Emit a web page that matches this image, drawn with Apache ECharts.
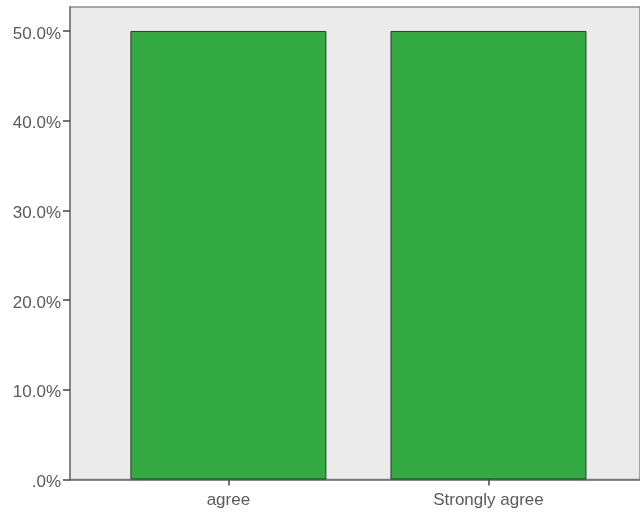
<!DOCTYPE html>
<html>
<head>
<meta charset="utf-8">
<script src="https://cdn.jsdelivr.net/npm/echarts@6/dist/echarts.min.js"></script>
<style>html,body{margin:0;padding:0;background:#fff}#c{width:640px;height:515px}</style>
</head>
<body>
<div id="c"></div>
<script>
const categories = ["agree", "Strongly agree"];
const percentValues = [50.0, 50.0];
const yTickValues = [0, 10, 20, 30, 40, 50];

const chart = echarts.init(document.getElementById('c'));
const fmtPct = v => '{p|' + (v === 0 ? '.0%' : v.toFixed(1) + '%') + '}';
chart.setOption({
  animation: false,
  grid: {
    left: 70, right: -2, top: 7, bottom: 35.5,
    show: true, backgroundColor: '#ebebeb', borderColor: '#8c8c8c', borderWidth: 1.5
  },
  xAxis: {
    type: 'value', min: -0.609, max: 1.5826,
    splitLine: { show: false },
    axisLine: { show: true, onZero: false, lineStyle: { color: '#6f6f6f', width: 1.5 } },
    axisTick: { show: true, customValues: categories.map((c, i) => i), length: 6, lineStyle: { color: '#444', width: 1.5 } },
    axisLabel: {
      customValues: categories.map((c, i) => i),
      formatter: v => categories[Math.round(v)] || '',
      color: '#5a5a5a', fontFamily: 'Liberation Sans', fontSize: 17, margin: 12
    }
  },
  yAxis: {
    type: 'value', min: 0, max: 52.67,
    splitLine: { show: false },
    axisLine: { show: true, onZero: false, lineStyle: { color: '#7a7a7a', width: 1.5 } },
    axisTick: { show: true, customValues: yTickValues, length: 7, lineStyle: { color: '#444', width: 1.5 } },
    axisLabel: {
      customValues: yTickValues, formatter: fmtPct,
      color: '#5a5a5a', fontFamily: 'Liberation Sans', fontSize: 17, margin: 9,
      rich: { p: { color: '#5a5a5a', fontFamily: 'Liberation Sans', fontSize: 17, padding: [6, 0, 0, 0] } }
    }
  },
  series: [{
    type: 'bar',
    barWidth: 196,
    data: percentValues.map((v, i) => [i, v]),
    itemStyle: { color: '#33aa42', borderColor: '#2b3a2d', borderWidth: 1 }
  }]
});
</script>
</body>
</html>
